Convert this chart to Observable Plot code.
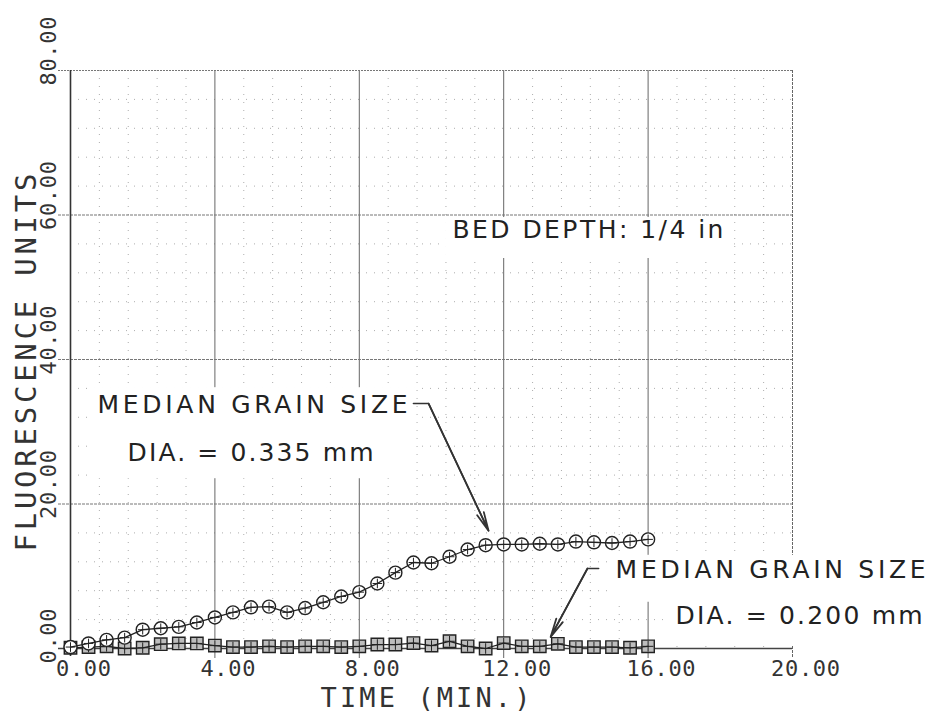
<!DOCTYPE html>
<html><head><meta charset="utf-8">
<script src="https://cdn.jsdelivr.net/npm/d3@7"></script>
<script src="https://cdn.jsdelivr.net/npm/@observablehq/plot@0.6"></script>
<style>
body{margin:0;background:#fff;}
#chart{width:931px;height:713px;}
</style></head><body><div id="chart"></div>
<script>
// ---- data ----
const time = [0,0.5,1,1.5,2,2.5,3,3.5,4,4.5,5,5.5,6,6.5,7,7.5,8,8.5,9,9.5,10,10.5,11,11.5,12,12.5,13,13.5,14,14.5,15,15.5,16];
const fluor335 = [0.2,0.7,1.2,1.5,2.6,2.8,3.0,3.6,4.3,5.0,5.7,5.8,5.0,5.6,6.4,7.2,7.8,9.0,10.5,11.9,11.8,12.7,13.7,14.3,14.4,14.4,14.5,14.4,14.8,14.7,14.6,14.8,15.1];
const fluor200 = [0.1,0.2,0.3,0.0,0.1,0.6,0.7,0.7,0.4,0.2,0.2,0.3,0.2,0.3,0.3,0.2,0.3,0.55,0.55,0.75,0.4,1.0,0.3,0.0,0.75,0.3,0.3,0.65,0.2,0.2,0.2,0.1,0.3];
const xTicks = [0,4,8,12,16,20];
const yTicks = [0,20,40,60,80];
const xMinor = [0.8,1.6,2.4,3.2,4.8,5.6,6.4,7.2,8.8,9.6,10.4,11.2,12.8,13.6,14.4,15.2,16.8,17.6,18.4,19.2];
const yMinor = [4,8,12,16,24,28,32,36,44,48,52,56,64,68,72,76];
const xLabel = "TIME (MIN.)";
const yLabel = "FLUORESCENCE UNITS";
const noteDepth = "BED DEPTH: 1/4 in";
const noteSize = "MEDIAN GRAIN SIZE";
const noteDia335 = "DIA. = 0.335 mm";
const noteDia200 = "DIA. = 0.200 mm";

const rows335 = time.map((t, i) => ({t, v: fluor335[i]}));
const rows200 = time.map((t, i) => ({t, v: fluor200[i]}));

// ---- annotation layout (data units) ----
const notes = [
  {text: noteDepth, x: 10.58, y: 56.75},
  {text: noteSize, x: 0.75, y: 32.53},
  {text: noteDia335, x: 1.58, y: 26.02},
  {text: noteSize, x: 15.10, y: 9.69},
  {text: noteDia200, x: 16.76, y: 3.46}
];
const pasteBoxes = [
  {x1: 10.39, x2: 18.37, y1: 53.98, y2: 59.65},
  {x1: 0.55, x2: 9.56, y1: 23.5, y2: 36.1},
  {x1: 15.0, x2: 23.7, y1: 6.4, y2: 12.9},
  {x1: 16.6, x2: 23.7, y1: 0.4, y2: 6.4}
];
const leader1 = [[9.50,33.9],[9.92,33.9],[11.58,16.3]];
const leader2 = [[14.63,11.07],[14.32,11.07],[13.30,1.6]];

const ink = "#222";
const mono = "DejaVu Sans Mono";

const svg = Plot.plot({
  width: 931, height: 713,
  marginLeft: 70, marginRight: 139, marginTop: 70, marginBottom: 65,
  x: {domain: [0, 20], axis: null},
  y: {domain: [0, 80], axis: null},
  style: {background: "white"},
  marks: [
    // minor dotted grid
    Plot.ruleX(xMinor, {stroke: "#999", strokeOpacity: 0.8, strokeDasharray: "1,7", strokeWidth: 1}),
    Plot.ruleY(yMinor, {stroke: "#999", strokeOpacity: 0.8, strokeDasharray: "1,7", strokeWidth: 1}),
    // major grid
    Plot.ruleX([4, 8, 12, 16], {stroke: "#666", strokeWidth: 1, insetBottom: -10}),
    Plot.ruleY([20, 40, 60], {stroke: "#777", strokeDasharray: "3,1", strokeWidth: 1, insetLeft: -12}),
    Plot.ruleY([80], {stroke: "#777", strokeDasharray: "2,1", strokeWidth: 1, insetLeft: -12}),
    Plot.ruleX([20], {stroke: "#666", strokeDasharray: "3,1", strokeWidth: 1, insetBottom: -10}),
    Plot.ruleX([0], {stroke: "#333", strokeWidth: 1.6, insetBottom: -8}),
    Plot.ruleY([0], {stroke: "#444", strokeWidth: 1.3, insetLeft: -12}),
    // pasted label backgrounds
    Plot.rect(pasteBoxes, {x1: "x1", x2: "x2", y1: "y1", y2: "y2", fill: "white"}),
    // series 0.200 mm (squares)
    Plot.dot(rows200, {x: "t", y: "v", symbol: "square", r: 7, stroke: ink, strokeWidth: 1.4, fill: "#bdbdbd"}),
    Plot.line(rows200, {x: "t", y: "v", stroke: ink, strokeWidth: 1.3}),
    Plot.dot(rows200, {x: "t", y: "v", symbol: "plus", r: 3.5, stroke: ink, strokeWidth: 1}),
    // series 0.335 mm (circles)
    Plot.dot(rows335, {x: "t", y: "v", r: 6.5, stroke: ink, strokeWidth: 1.4, fill: "white"}),
    Plot.line(rows335, {x: "t", y: "v", stroke: ink, strokeWidth: 1.3}),
    Plot.dot(rows335, {x: "t", y: "v", symbol: "plus", r: 3.2, stroke: ink, strokeWidth: 1}),
    // leaders
    Plot.line(leader1, {x: d => d[0], y: d => d[1], stroke: "#333", strokeWidth: 1.6}),
    Plot.arrow([leader1], {x1: d => d[1][0], y1: d => d[1][1], x2: d => d[2][0], y2: d => d[2][1], stroke: "#333", strokeWidth: 1.8, headAngle: 22, headLength: 16}),
    Plot.line(leader2, {x: d => d[0], y: d => d[1], stroke: "#333", strokeWidth: 1.6}),
    Plot.arrow([leader2], {x1: d => d[1][0], y1: d => d[1][1], x2: d => d[2][0], y2: d => d[2][1], stroke: "#333", strokeWidth: 1.8, headAngle: 22, headLength: 16}),
    // annotations
    Plot.text(notes, {x: "x", y: "y", text: "text", textAnchor: "start", lineAnchor: "bottom",
      fontFamily: "DejaVu Sans", fontSize: 25, fill: ink}),
    // tick labels
    Plot.text(xTicks, {x: d => d, frameAnchor: "bottom", text: d => d.toFixed(2), dx: 13, dy: 27,
      lineAnchor: "bottom", textAnchor: "middle", fontFamily: mono, fontSize: 22, fill: "#333"}),
    Plot.text(yTicks, {y: d => d, frameAnchor: "left", text: d => d.toFixed(2), rotate: -90, dx: -15, dy: 15,
      lineAnchor: "bottom", textAnchor: "start", fontFamily: mono, fontSize: 22, fill: "#333"}),
    // axis titles
    Plot.text([xLabel], {frameAnchor: "bottom", text: d => d, dx: -6, dy: 58, lineAnchor: "bottom",
      textAnchor: "middle", fontFamily: mono, fontSize: 27, fill: "#333"}),
    Plot.text([yLabel], {frameAnchor: "left", text: d => d, rotate: -90, dx: -35, dy: 3, lineAnchor: "bottom",
      textAnchor: "middle", fontFamily: mono, fontSize: 29, fill: "#333"})
  ]
});

// stretch text widths to match the original lettering
const widths = new Map([[noteDepth, 271], [noteSize, 310], [noteDia335, 246], [noteDia200, 247], [xLabel, 210], [yLabel, 378]]);
d3.select(svg).selectAll("text").each(function() {
  const t = this.textContent;
  let w = widths.get(t);
  if (w == null && /^\d+\.00$/.test(t)) w = t.length * 14 - 1;
  if (w != null) {
    this.setAttribute("textLength", w);
    this.setAttribute("lengthAdjust", "spacing");
  }
});
document.getElementById("chart").appendChild(svg);
</script></body></html>
